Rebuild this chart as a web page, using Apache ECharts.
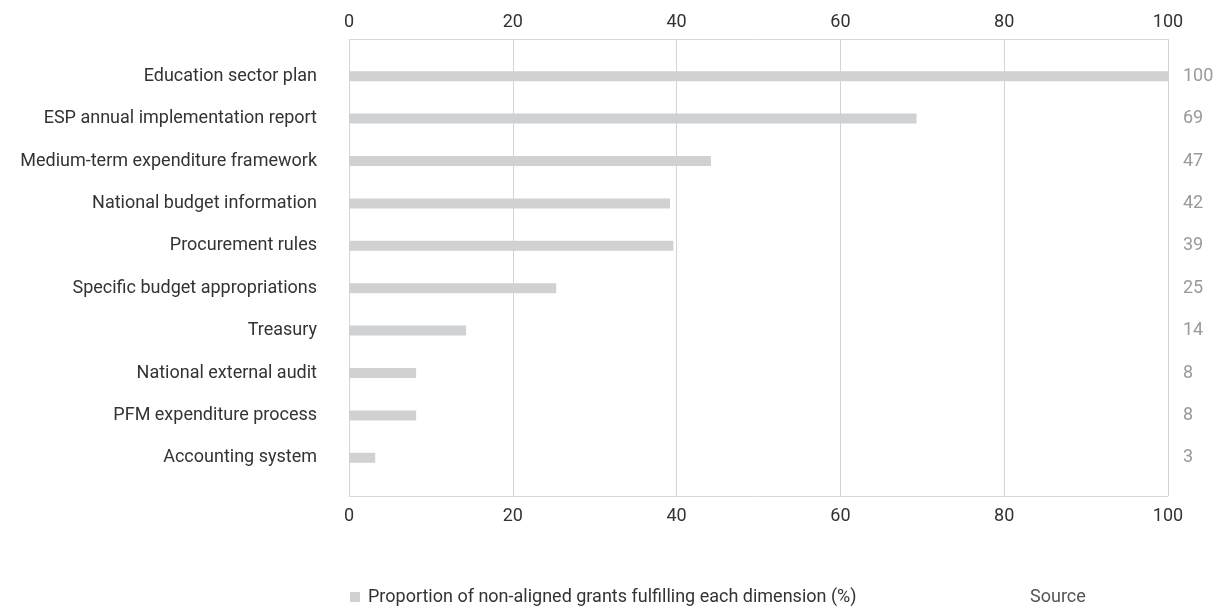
<!DOCTYPE html>
<html>
<head>
<meta charset="utf-8">
<script src="https://cdn.jsdelivr.net/npm/echarts@6/dist/echarts.min.js"></script>
<style>
html,body{margin:0;padding:0;background:#fff;}
#chart{width:1217px;height:608px;}
</style>
</head>
<body>
<div id="chart"></div>
<script>
const categories = [
  "Education sector plan",
  "ESP annual implementation report",
  "Medium-term expenditure framework",
  "National budget information",
  "Procurement rules",
  "Specific budget appropriations",
  "Treasury",
  "National external audit",
  "PFM expenditure process",
  "Accounting system"
];
const values = [100, 69, 47, 42, 39, 25, 14, 8, 8, 3];
const barValues = [100, 69.3, 44.2, 39.2, 39.6, 25.3, 14.3, 8.2, 8.2, 3.2];
const seriesName = "Proportion of non-aligned grants fulfilling each dimension (%)";
const sourceText = "Source";
const xTicks = [0, 20, 40, 60, 80, 100];

const FONT = "Roboto, 'DejaVu Sans', sans-serif";
const FS = 18;
const chart = echarts.init(document.getElementById('chart'));
chart.setOption({
  animation: false,
  textStyle: { fontFamily: FONT },
  grid: [
    { left: 349, right: 49, top: 39, bottom: 112, containLabel: false },
    { left: 349, right: 49, top: 55, bottom: 129, containLabel: false }
  ],
  legend: {
    left: 345, top: 583,
    itemWidth: 10, itemHeight: 10, itemGap: 6,
    icon: 'rect',
    textStyle: { color: '#333', fontSize: FS, fontFamily: FONT, padding: [0, 0, 0, 3] },
    data: [seriesName]
  },
  graphic: [{
    type: 'text', left: 1030, top: 588,
    style: { text: sourceText, fill: '#555', fontSize: FS, fontFamily: FONT }
  }],
  xAxis: [
    { type: 'value', gridIndex: 0, position: 'top', min: 0, max: 100, interval: 20,
      axisLine: { show: true, lineStyle: { color: '#d9d9d9', width: 1 } },
      axisTick: { show: false },
      splitLine: { show: true, lineStyle: { color: '#d4d4d4', width: 1 } },
      axisLabel: { color: '#333', fontSize: FS, margin: 8, fontFamily: FONT,
        formatter: v => xTicks.includes(v) ? String(v) : '' } },
    { type: 'value', gridIndex: 0, position: 'bottom', min: 0, max: 100, interval: 20,
      axisLine: { show: true, lineStyle: { color: '#d9d9d9', width: 1 } },
      axisTick: { show: false },
      splitLine: { show: false },
      axisLabel: { color: '#333', fontSize: FS, margin: 11, fontFamily: FONT } },
    { type: 'value', gridIndex: 1, min: 0, max: 100, show: false }
  ],
  yAxis: [
    { type: 'category', gridIndex: 0, show: false, data: [''] },
    { type: 'category', gridIndex: 1, inverse: true, position: 'left', data: categories,
      axisLine: { show: false }, axisTick: { show: false },
      axisLabel: { color: '#333', fontSize: FS, margin: 32, fontFamily: FONT } },
    { type: 'category', gridIndex: 1, inverse: true, position: 'right',
      data: values.map(String),
      axisLine: { show: false }, axisTick: { show: false },
      axisLabel: { color: '#9a9a9a', fontSize: FS, margin: 15, align: 'left', fontFamily: FONT } }
  ],
  series: [{
    name: seriesName,
    type: 'bar',
    xAxisIndex: 2, yAxisIndex: 1,
    data: barValues,
    barWidth: 10,
    itemStyle: { color: '#d0d1d3' },
    silent: true
  }]
});
</script>
</body>
</html>
